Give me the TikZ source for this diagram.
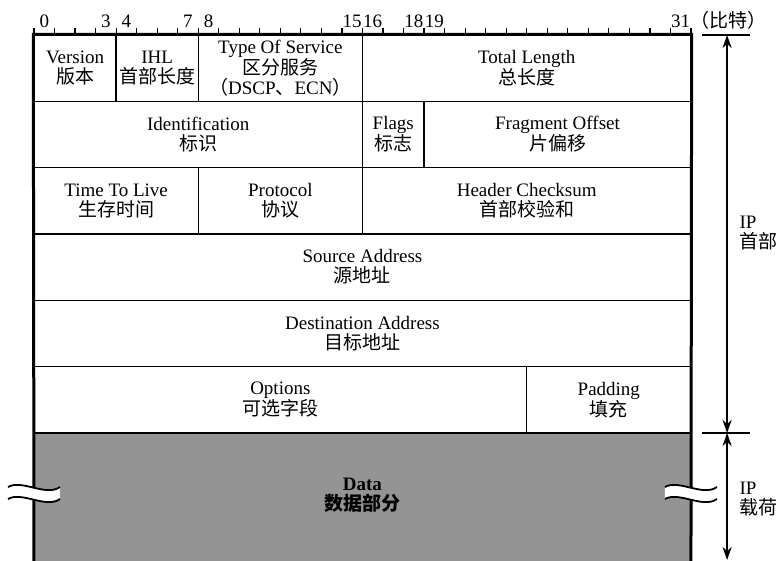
\documentclass[tikz,border=0pt]{standalone}
\usepackage{fontspec}
\setmainfont{Liberation Serif}
\newfontfamily\cjk{Noto Sans CJK SC}
\usetikzlibrary{arrows.meta}
\definecolor{ipgray}{RGB}{148,148,148}

\tikzset{
  field/.style={draw, line width=1.4pt, minimum width=#1*20.53pt, minimum height=66.33pt,
    inner sep=0pt, align=center, font=\fontsize{19}{20}\selectfont},
  bitnum/.style={anchor=base, font=\fontsize{19}{19}\selectfont},
  sidelabel/.style={anchor=west, align=left, font=\fontsize{19}{20}\selectfont},
  span/.style={line width=2.4pt, {Stealth[length=13pt,width=9pt]}-{Stealth[length=13pt,width=9pt]}},
}

\begin{document}
\begin{tikzpicture}[x=20.53pt, y=-66.33pt]
\useasboundingbox (-1.656,-0.5277) rectangle (36.24,7.930);

% payload
\fill[ipgray] (0,6) rectangle (32,8);

% header words
\node[field=4]  (ver)   at (2,0.5)   {Version\\{\cjk 版本}};
\node[field=4]  (ihl)   at (6,0.5)   {IHL\\{\cjk 首部长度}};
\node[field=8]  (tos)   at (12,0.5)  {Type Of Service\\{\cjk 区分服务}\\{\cjk （}DSCP{\cjk 、}ECN{\cjk ）}};
\node[field=16] (len)   at (24,0.5)  {Total Length\\{\cjk 总长度}};
\node[field=16] (ident) at (8,1.5)   {Identification\\{\cjk 标识}};
\node[field=3]  (flags) at (17.5,1.5) {Flags\\{\cjk 标志}};
\node[field=13] (frag)  at (25.5,1.5) {Fragment Offset\\{\cjk 片偏移}};
\node[field=8]  (ttl)   at (4,2.5)   {Time To Live\\{\cjk 生存时间}};
\node[field=8]  (proto) at (12,2.5)  {Protocol\\{\cjk 协议}};
\node[field=16] (csum)  at (24,2.5)  {Header Checksum\\{\cjk 首部校验和}};
\node[field=32] (src)   at (16,3.5)  {Source Address\\{\cjk 源地址}};
\node[field=32] (dst)   at (16,4.5)  {Destination Address\\{\cjk 目标地址}};
\node[field=24] (opt)   at (12,5.5)  {Options\\{\cjk 可选字段}};
\node[field=8]  (pad)   at (28,5.5)  {Padding\\{\cjk 填充}};
\node[align=center, font=\fontsize{19}{20}\selectfont\bfseries] (data) at (16,6.94) {Data\\{\cjk 数据部分}};

% outer frame
\draw[line width=3pt] (0,8) -- (ver.north west) -- (len.north east) -- (32,8);

% bit scale
\foreach \b in {0,...,32}
  \draw[line width=1.2pt] (\b,0) -- (\b,-0.11);
\foreach \b in {0,3,4,7,8,15,16,18,19,31}
  \node[bitnum] (n\b) at (\b+0.5,-0.12) {\b};
\node[anchor=base, font=\fontsize{19}{20}\selectfont] (unit) at (33.85,-0.12) {\cjk （比特）};

% header / payload spans
\coordinate (hdtop) at (33.76,0);
\coordinate (hdbot) at (33.76,6);
\coordinate (plbot) at (33.76,7.915);
\draw[line width=1.3pt] (32.54,0) -- (34.88,0);
\draw[line width=1.3pt] (32.54,6) -- (34.88,6);
\draw[span] (hdtop) -- (hdbot);
\draw[span] (hdbot) -- (plbot);
\node[sidelabel] (hdlabel) at (34.2,2.985) {IP\\{\cjk 首部}};
\node[sidelabel] (pllabel) at (34.2,7.0) {IP\\{\cjk 载荷}};

% break marks
\foreach \e in {0,32}{
  \begin{scope}[shift={(\e,6.905)}, x=1pt, y=-1pt]
    \fill[white] (-26,-6) .. controls (-12,-14) and (12,4) .. (26,-6)
      -- (26,6) .. controls (12,16) and (-12,-2) .. (-26,6) -- cycle;
    \draw[line width=1.8pt] (-26,-6) .. controls (-12,-14) and (12,4) .. (26,-6);
    \draw[line width=1.8pt] (-26,6) .. controls (-12,-2) and (12,16) .. (26,6);
  \end{scope}
}
\end{tikzpicture}
\end{document}
